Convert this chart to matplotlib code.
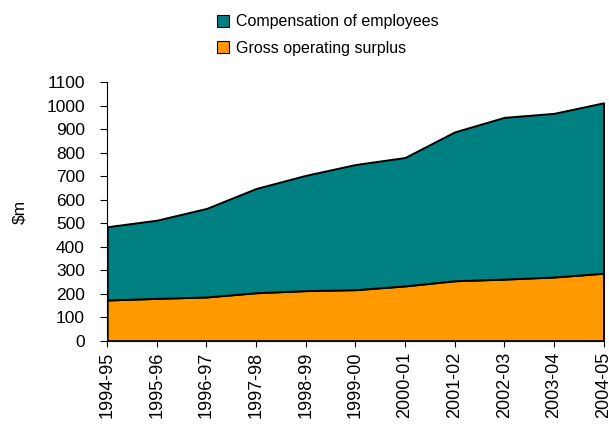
import numpy as np
import matplotlib
matplotlib.use("Agg")
import matplotlib.pyplot as plt
from matplotlib.patches import Patch

plt.rcParams['font.family'] = ['Liberation Sans', 'DejaVu Sans']

years = ['1994-95', '1995-96', '1996-97', '1997-98', '1998-99', '1999-00',
         '2000-01', '2001-02', '2002-03', '2003-04', '2004-05']
gross_surplus = [173, 180, 186, 204, 213, 217, 233, 255, 262, 271, 287]
compensation = [312, 333, 377, 444, 491, 533, 547, 634, 689, 697, 726]

teal = '#008080'
orange = '#FF9900'

fig = plt.figure(figsize=(6.09, 4.29), dpi=100)
ax = fig.add_axes([0.176, 0.206, 0.815, 0.602])

x = np.arange(len(years))
ax.stackplot(x, gross_surplus, compensation, colors=[orange, teal],
             edgecolor='black', linewidth=1.4)

ax.set_xlim(0, len(years) - 1)
ax.set_ylim(0, 1100)
ax.set_yticks(np.arange(0, 1101, 100))
ax.set_xticks(x)
ax.set_xticklabels(years, rotation=90, fontsize=13)
ax.tick_params(axis='y', labelsize=12.5, direction='out', length=5, width=0.8, pad=11)
ax.tick_params(axis='x', direction='out', length=4, width=0.8, pad=4)
ax.spines['top'].set_visible(False)
ax.spines['right'].set_visible(False)
ax.set_ylabel('$m', fontsize=12.5, labelpad=14)

handles = [Patch(facecolor=teal, edgecolor='black', linewidth=0.8),
           Patch(facecolor=orange, edgecolor='black', linewidth=0.8)]
fig.legend(handles, ['Compensation of employees', 'Gross operating surplus'],
           loc='upper left', bbox_to_anchor=(0.333, 1.0), frameon=False,
           fontsize=11.5, handlelength=0.75, handleheight=0.75,
           handletextpad=0.4, labelspacing=0.7)

fig.savefig('out.png', dpi=100)
